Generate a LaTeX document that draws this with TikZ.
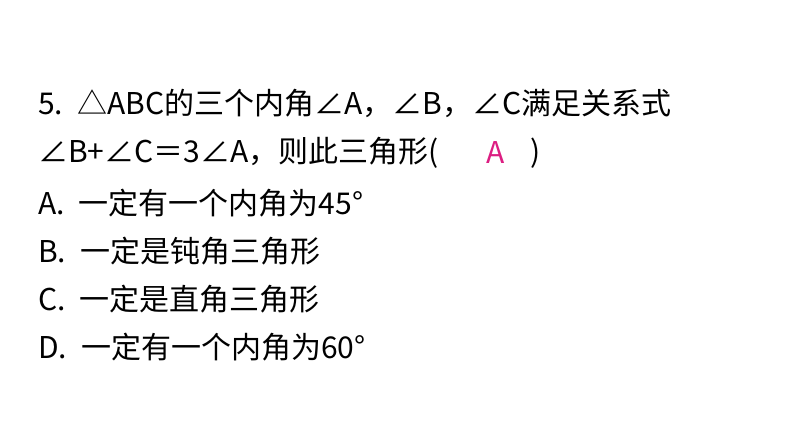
\documentclass[tikz,border=0pt]{standalone}
\usepackage{fontspec}
\newfontfamily\cjk{Noto Sans CJK SC}
\definecolor{ans}{RGB}{220,30,130}
\begin{document}
\begin{tikzpicture}[x=1pt,y=-1pt,txt/.style={anchor=west,inner sep=0pt,font=\cjk\fontsize{30}{34}\selectfont}]
\useasboundingbox (0,0) rectangle (794,447);
\node[txt] (l1) at (38,103) {5.\hspace{14pt}△ABC的三个内角∠A，∠B，∠C满足关系式};
\node[txt] (l2) at (38,153) {∠B+∠C＝3∠A，则此三角形(};
\node[txt,text=ans] (a) at (486,153) {A};
\node[txt] (p) at (530,153) {)};
\node[txt] (l3) at (38,203) {A.\hspace{14pt}一定有一个内角为45°};
\node[txt] (l4) at (38,251) {B.\hspace{14pt}一定是钝角三角形};
\node[txt] (l5) at (38,299) {C.\hspace{14pt}一定是直角三角形};
\node[txt] (l6) at (38,347) {D.\hspace{14pt}一定有一个内角为60°};
\end{tikzpicture}
\end{document}
